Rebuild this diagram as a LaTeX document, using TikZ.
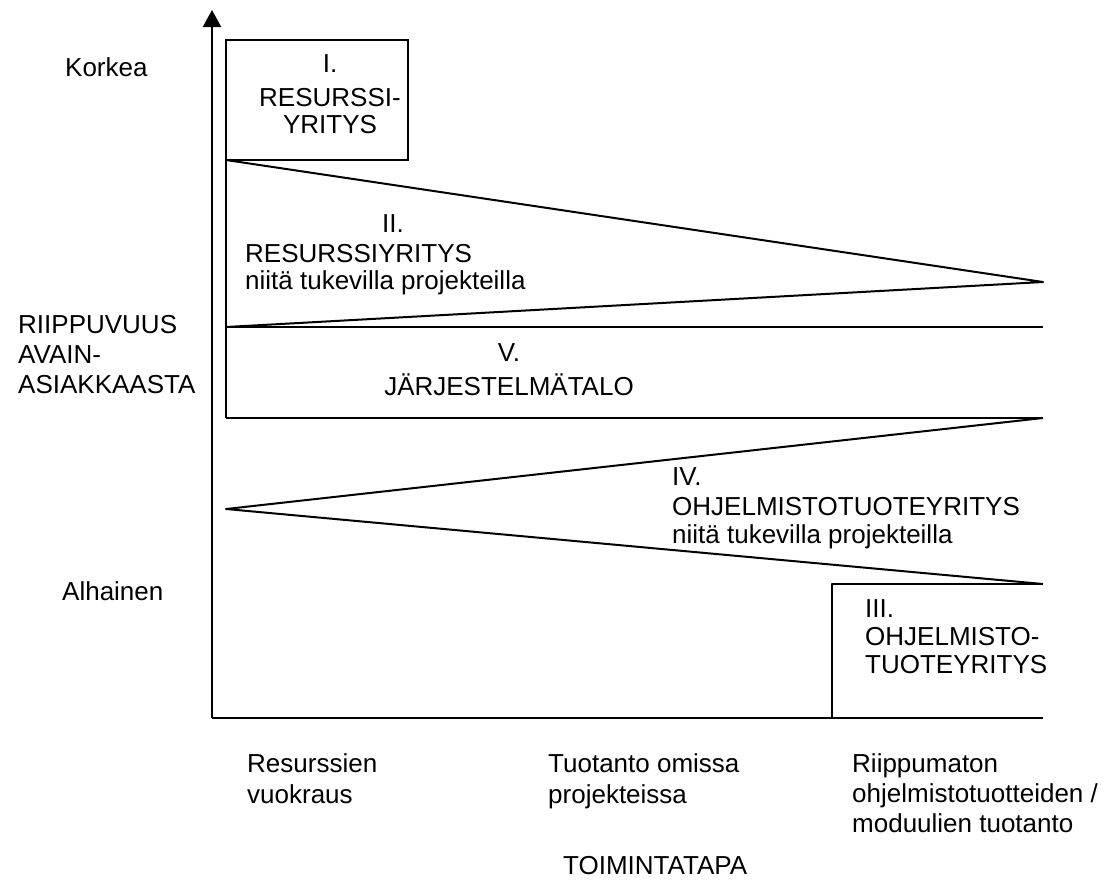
\documentclass[tikz,border=0pt]{standalone}
\usepackage{fontspec}
\setmainfont{Liberation Sans}
\usetikzlibrary{arrows.meta}
\tikzset{
  lbl/.style={anchor=base west, inner sep=0pt, font=\fontsize{26}{30}\selectfont},
  clbl/.style={anchor=base, inner sep=0pt, font=\fontsize{26}{30}\selectfont},
  ln/.style={line width=2pt, line join=round, line cap=butt},
  axis/.style={line width=2.2pt}
}
\newcommand{\Lft}[1]{\begin{tabular}[t]{@{}l@{}}#1\end{tabular}}
\newcommand{\Ctr}[1]{\begin{tabular}[t]{@{}c@{}}#1\end{tabular}}
\begin{document}
\begin{tikzpicture}[x=1pt,y=-1pt]
\useasboundingbox (0,0) rectangle (1116,879);
% axes
\coordinate (O) at (212,718);
\coordinate (Ytop) at (212,10);
\coordinate (Xend) at (1043,718);
\draw[axis,-{Triangle[width=18pt,length=17pt]}] (O) -- (Ytop);
\draw[axis] (O) -- (Xend);
% region coordinates
\coordinate (IA) at (226,40);
\coordinate (IB) at (408,160);
\coordinate (A) at (226,160);
\coordinate (B) at (1043,282);
\coordinate (C) at (226,327);
\coordinate (D) at (1043,327);
\coordinate (E) at (226,418);
\coordinate (F) at (1043,418);
\coordinate (G) at (226,509);
\coordinate (H) at (1043,584);
\coordinate (J) at (832,584);
\coordinate (K) at (832,718);
% shapes
\draw[ln,line join=miter] (IA) rectangle (IB);
\draw[ln] (A) -- (B) -- (C);
\draw[ln] (A) -- (E);
\draw[ln] (C) -- (D);
\draw[ln] (E) -- (F);
\draw[ln] (F) -- (G) -- (H);
\draw[ln] (K) -- (J) -- (H);
% y-axis labels
\node[lbl] (korkea) at (65,76) {Korkea};
\node[lbl] (alhainen) at (62,600) {Alhainen};
\node[lbl] (ylabel) at (18,333) {\Lft{RIIPPUVUUS\\AVAIN-\\ASIAKKAASTA}};
% region labels
\node[clbl] (t1) at (330,72) {\Ctr{I.\\[4pt]RESURSSI-\\[-3pt]YRITYS}};
\node[lbl] (t2) at (245,232) {\Lft{\hspace*{137pt}II.\\RESURSSIYRITYS\\[-3pt]niitä tukevilla projekteilla}};
\node[clbl] (t5) at (509,361) {\Ctr{V.\\[4pt]JÄRJESTELMÄTALO}};
\node[lbl] (t4) at (672,485) {\Lft{IV.\\OHJELMISTOTUOTEYRITYS\\[-2pt]niitä tukevilla projekteilla}};
\node[lbl] (t3) at (865,617) {\Lft{III.\\[-2pt]OHJELMISTO-\\[-2pt]TUOTEYRITYS}};
% x-axis labels
\node[lbl] (x1) at (247,772) {\Lft{Resurssien\\[1pt]vuokraus}};
\node[lbl] (x2) at (548,772) {\Lft{Tuotanto omissa\\[1pt]projekteissa}};
\node[lbl] (x3) at (852,772) {\Lft{Riippumaton\\ohjelmistotuotteiden /\\moduulien tuotanto}};
\node[lbl] (xlabel) at (563,874) {TOIMINTATAPA};
\end{tikzpicture}
\end{document}
